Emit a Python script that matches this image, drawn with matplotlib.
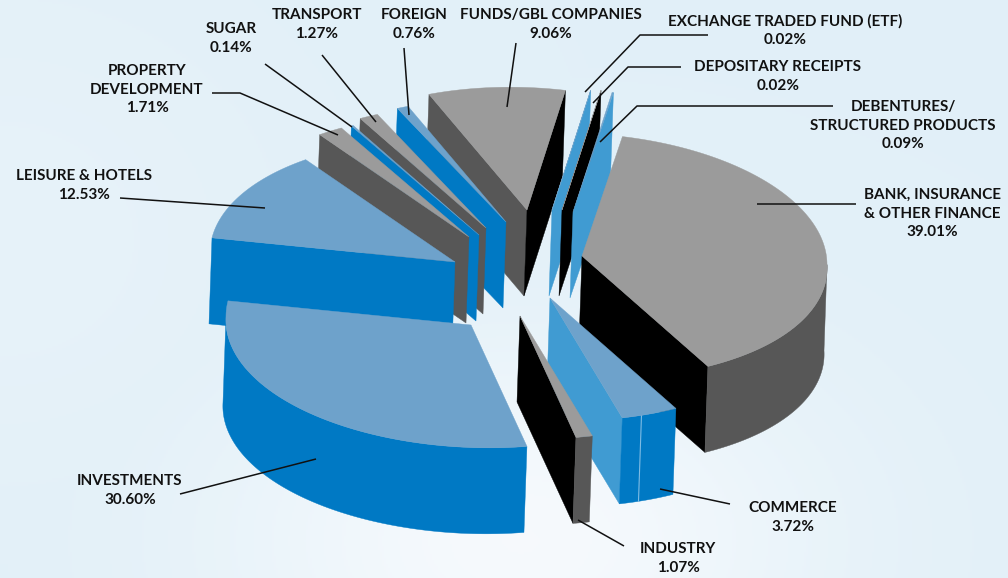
import numpy as np
import matplotlib
matplotlib.use('Agg')
import matplotlib.pyplot as plt

plt.rcParams['font.family'] = ['Lato', 'DejaVu Sans']

# slices, clockwise from the start angle
names = ['BANK, INSURANCE\n& OTHER FINANCE', 'COMMERCE', 'INDUSTRY', 'INVESTMENTS',
         'LEISURE & HOTELS', 'PROPERTY\nDEVELOPMENT', 'SUGAR', 'TRANSPORT', 'FOREIGN',
         'FUNDS/GBL COMPANIES', 'EXCHANGE TRADED FUND (ETF)', 'DEPOSITARY RECEIPTS',
         'DEBENTURES/\nSTRUCTURED PRODUCTS']
shares = [39.01, 3.72, 1.07, 30.60, 12.53, 1.71, 0.14, 1.27, 0.76, 9.06, 0.02, 0.02, 0.09]
families = ['grey', 'blue', 'grey', 'blue', 'blue', 'grey', 'blue', 'grey', 'blue',
            'grey', 'blue', 'grey', 'blue']

# where the point of each slice ends up once exploded
apex_x = [582, 550, 520, 471, 455, 469, 479, 486, 506, 527, 552, 562, 573]
apex_y = [256, 298, 316, 325, 262, 237, 235, 228, 222, 210, 210, 210, 212]

# label centre x, first line y, leader path
label_x = [932, 793, 678, 130, 84, 147, 231, 317, 414, 551, 785, 778, 903]
label_y = [194, 507, 548, 480, 175, 70, 28, 14, 14, 14, 20, 66, 106]
leaders = [
    ([757, 856], [204, 204]),
    ([660, 730], [489, 504]),
    ([578, 624], [520, 546]),
    ([316, 180], [459, 494]),
    ([265, 120], [208, 198]),
    ([338, 240, 212], [135, 93, 93]),
    ([352, 265], [127, 64]),
    ([376, 322], [122, 55]),
    ([409, 404], [115, 48]),
    ([507, 516], [107, 43]),
    ([585, 640, 708], [92, 35, 35]),
    ([593, 628, 681], [103, 67, 67]),
    ([600, 637, 833], [142, 106, 106]),
]

START = 9.5
RADIUS = 245
TILT = 0.5
DEPTH = 86
LEAN = -3       # verticals drift left going down
SHEAR = 0.035   # the whole pie sits rotated a touch clockwise
WIDEN = 0.03    # front of the pie is a bit wider than the back

palette = {
    'grey': dict(top='#9b9b9b', start='#575757', end='#000000', wall='#575757'),
    'blue': dict(top='#6ea2cb', start='#0079c4', end='#409bd2', wall='#0079c4'),
}


def rim(ax_x, ax_y, angles):
    a = np.radians(angles)
    dx = RADIUS * np.sin(a) * (1 + WIDEN * np.maximum(0, -np.cos(a)))
    return ax_x + dx, ax_y - RADIUS * TILT * np.cos(a) + SHEAR * dx


def side(x1, y1, x2, y2):
    # quad hanging below the top edge x1,y1 - x2,y2
    return [x1, x2, x2 + LEAN, x1 + LEAN], [y1, y2, y2 + DEPTH, y1 + DEPTH]


fig = plt.figure(figsize=(10.08, 5.78), dpi=100)
ax = fig.add_axes([0, 0, 1, 1])
ax.set_xlim(0, 1008)
ax.set_ylim(578, 0)
ax.axis('off')

# pale background, lightest low in the middle
yy, xx = np.mgrid[0:578:2, 0:1008:2]
glow = np.exp(-(((xx - 520) / 300) ** 2 + ((yy - 540) / 200) ** 2))
glow = np.maximum(glow, 0.25 * np.exp(-((xx / 300) ** 2 + ((yy - 240) / 260) ** 2)))
base = np.array([0.886, 0.941, 0.973])
light = np.array([0.965, 0.98, 0.992])
bg = base + (light - base) * glow[..., None]
ax.imshow(bg, extent=(0, 1008, 578, 0), aspect='auto', zorder=0)
ax.set_xlim(0, 1008)
ax.set_ylim(578, 0)

edges = START + np.concatenate([[0], np.cumsum(shares)]) * 3.6
mids = (edges[:-1] + edges[1:]) / 2
order = np.argsort(-np.cos(np.radians(mids)))

z = 1
for i in order:
    a0, a1 = edges[i], edges[i + 1]
    x0, y0 = apex_x[i], apex_y[i]
    col = palette[families[i]]
    arc = np.linspace(a0, a1, max(int(a1 - a0) * 2, 2))
    rx, ry = rim(x0, y0, arc)

    # cut faces that turn towards the viewer
    if np.sin(np.radians(a0)) < 0:
        qx, qy = side(x0, y0, rx[0], ry[0])
        ax.fill(qx, qy, color=col['start'], lw=0.3, zorder=z)
    if np.sin(np.radians(a1)) > 0:
        qx, qy = side(x0, y0, rx[-1], ry[-1])
        ax.fill(qx, qy, color=col['end'], lw=0.3, zorder=z)

    # outer wall, only the front half shows
    lo, hi = max(a0, 90), min(a1, 270)
    if hi > lo:
        wall = np.linspace(lo, hi, max(int(hi - lo) * 2, 2))
        wx, wy = rim(x0, y0, wall)
        ax.fill(np.r_[wx, wx[::-1] + LEAN], np.r_[wy, wy[::-1] + DEPTH],
                color=col['wall'], lw=0.3, zorder=z)
        if names[i] == 'COMMERCE':
            # the pale seam down the commerce wall
            sx, sy = rim(x0, y0, 158.7)
            ax.plot([sx, sx + LEAN], [sy, sy + DEPTH], color='#7fbce4', lw=0.8, zorder=z + 0.2)

    ax.fill(np.r_[x0, rx], np.r_[y0, ry], color=col['top'], lw=0.3, zorder=z + 0.5)
    z += 1

for (lx, ly) in leaders:
    ax.plot(lx, ly, color='#111111', lw=1.1, zorder=50, solid_capstyle='butt')

for name, share, x, y in zip(names, shares, label_x, label_y):
    ax.text(x, y - 6, '%s\n%.2f%%' % (name, share), ha='center', va='top', fontsize=11,
            fontweight='bold', color='#111111', linespacing=1.42, zorder=60)

fig.savefig('out.png', dpi=100)
